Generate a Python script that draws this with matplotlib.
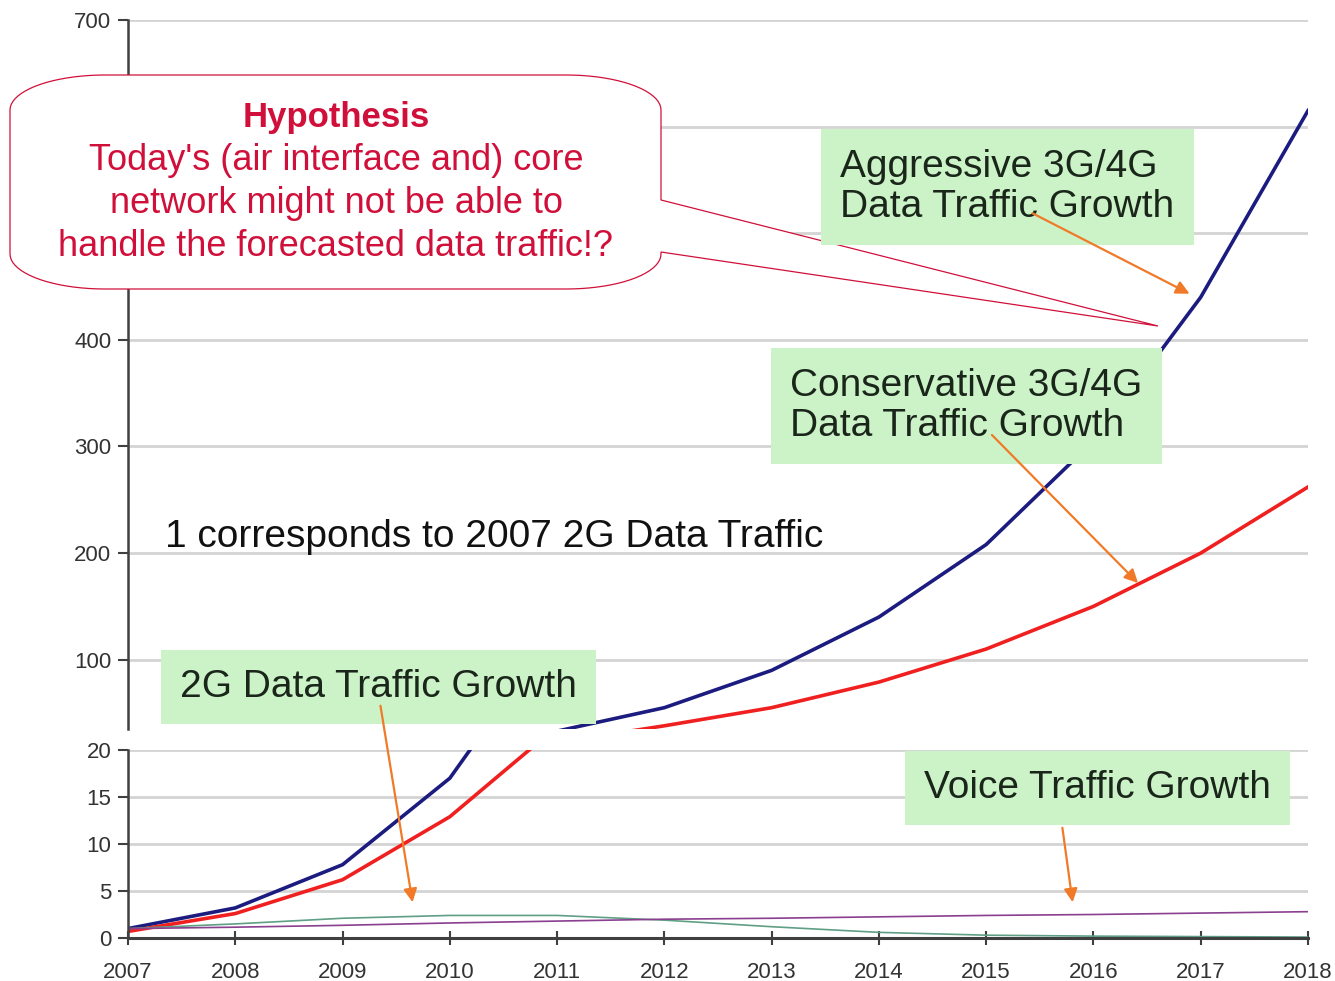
import matplotlib
matplotlib.use("Agg")
import matplotlib.pyplot as plt
from matplotlib.patches import FancyArrowPatch, PathPatch
from matplotlib.path import Path
import numpy as np

LARGURA, ALTURA = 1335, 981
ARQUIVO_SAIDA = "out.png"

anos = [2007, 2008, 2009, 2010, 2011, 2012, 2013, 2014, 2015, 2016, 2017, 2018]
agressivo = [1, 3.2, 7.8, 17, 33, 55, 90, 140, 208, 305, 440, 615]
conservador = [0.7, 2.6, 6.2, 12.9, 22.5, 38, 55, 79, 110, 150, 200, 262]
dados_2g = [1, 1.5, 2.1, 2.4, 2.4, 1.9, 1.2, 0.6, 0.3, 0.2, 0.15, 0.1]
voz = [1, 1.15, 1.35, 1.6, 1.8, 2.0, 2.1, 2.25, 2.4, 2.5, 2.65, 2.8]

ticks_superior = [100, 200, 300, 400, 500, 600, 700]
# 500 e 600 ficam escondidos atras do balao
rotulos_superior = ["100", "200", "300", "400", "", "", "700"]
ticks_inferior = [0, 5, 10, 15, 20]

AZUL = "#1c1c80"
VERMELHO = "#f02020"
VERDE = "#5f9f86"
ROXO = "#8a3f8f"
LARANJA = "#f07a28"
CAIXA = "#ccf3c8"
TEXTO_CAIXA = "#1a261a"
CARMIM = "#d0103a"

FONTE = ["Liberation Sans", "DejaVu Sans"]
FONTE_EIXO = ["Liberation Sans Narrow", "Liberation Sans", "DejaVu Sans"]


def px(x, y):
    # pixel da imagem (origem em cima) -> fracao da figura
    return x / LARGURA, 1 - y / ALTURA


def estilo_eixo(ax):
    for lado in ["top", "right"]:
        ax.spines[lado].set_visible(False)
    ax.spines["left"].set_color("#404040")
    ax.spines["left"].set_linewidth(1.8)
    ax.grid(axis="y", color="#d4d4d4", linewidth=2)
    ax.set_axisbelow(True)
    ax.tick_params(axis="y", colors="#404040", labelcolor="#333333",
                   length=7, width=1.5, labelsize=16, pad=5)


def plotar_series(ax):
    ax.plot(anos, agressivo, color=AZUL, linewidth=2.6)
    ax.plot(anos, conservador, color=VERMELHO, linewidth=2.6)
    ax.plot(anos, dados_2g, color=VERDE, linewidth=1.2)
    ax.plot(anos, voz, color=ROXO, linewidth=1.2)


def balao(fig):
    # balao arredondado com ponta, desenhado em pixels da imagem
    x0, x1, y0, y1 = 10, 661, 75, 289
    rx, ry = 95, 35
    t = np.linspace(0, np.pi / 2, 20)
    pts = []
    # canto superior esquerdo
    pts += [(x0 + rx - rx * np.cos(a), y0 + ry - ry * np.sin(a)) for a in t]
    # canto superior direito
    pts += [(x1 - rx + rx * np.sin(a), y0 + ry - ry * np.cos(a)) for a in t]
    # ponta
    pts += [(x1, 200), (1158, 326), (x1, 252)]
    # canto inferior direito
    pts += [(x1 - rx + rx * np.cos(a), y1 - ry + ry * np.sin(a)) for a in t]
    # canto inferior esquerdo
    pts += [(x0 + rx - rx * np.sin(a), y1 - ry + ry * np.cos(a)) for a in t]
    pts.append(pts[0])
    verts = [px(x, y) for x, y in pts]
    codes = [Path.MOVETO] + [Path.LINETO] * (len(verts) - 2) + [Path.CLOSEPOLY]
    patch = PathPatch(Path(verts, codes), facecolor="white", edgecolor=CARMIM,
                      linewidth=0.9, transform=fig.transFigure, zorder=10)
    fig.add_artist(patch)

    cx = 336 / LARGURA
    fig.text(cx, px(0, 117)[1], "Hypothesis", ha="center", va="center",
             fontsize=25, fontweight="bold", color=CARMIM, family=FONTE, zorder=11)
    linhas = ["Today's (air interface and) core",
              "network might not be able to",
              "handle the forecasted data traffic!?"]
    for i, linha in enumerate(linhas):
        fig.text(cx, px(0, 161 + 43 * i)[1], linha, ha="center", va="center",
                 fontsize=26, color=CARMIM, family=FONTE, zorder=11)


def caixa(fig, x, y, texto):
    fig.text(*px(x, y), texto, ha="left", va="center", fontsize=28,
             color=TEXTO_CAIXA, family=FONTE, linespacing=1.15, zorder=12,
             bbox=dict(boxstyle="square,pad=0.5", facecolor=CAIXA,
                       edgecolor="none"))


def seta(fig, inicio, fim):
    a = FancyArrowPatch(px(*inicio), px(*fim), transform=fig.transFigure,
                        arrowstyle="-|>,head_length=8,head_width=4",
                        color=LARANJA, linewidth=1.6, zorder=13)
    fig.add_artist(a)


def desenhar_grafico():
    fig = plt.figure(figsize=(LARGURA / 100, ALTURA / 100), dpi=100)
    fig.patch.set_facecolor("white")

    esq, dir_ = px(128, 0)[0], px(1308, 0)[0]
    # eixo superior (35 a 700)
    b_sup = px(0, 729)[1]
    t_sup = px(0, 20)[1]
    ax_sup = fig.add_axes([esq, b_sup, dir_ - esq, t_sup - b_sup])
    # eixo inferior (0 a 20)
    b_inf = px(0, 938)[1]
    t_inf = px(0, 750)[1]
    ax_inf = fig.add_axes([esq, b_inf, dir_ - esq, t_inf - b_inf])

    for ax in (ax_sup, ax_inf):
        plotar_series(ax)
        ax.set_xlim(anos[0], anos[-1])
        estilo_eixo(ax)

    ax_sup.set_ylim(35, 700)
    ax_sup.set_yticks(ticks_superior)
    ax_sup.set_yticklabels(rotulos_superior)
    ax_sup.spines["bottom"].set_visible(False)
    ax_sup.tick_params(axis="x", bottom=False, labelbottom=False)

    ax_inf.set_ylim(0, 20)
    ax_inf.set_yticks(ticks_inferior)
    ax_inf.set_xticks(anos)
    ax_inf.spines["bottom"].set_color("#404040")
    ax_inf.spines["bottom"].set_linewidth(2.2)
    ax_inf.tick_params(axis="x", direction="inout", length=10, width=1.5,
                       colors="#404040", labelcolor="#333333", labelsize=16, pad=12)
    for ax in (ax_sup, ax_inf):
        for rotulo in ax.get_yticklabels() + ax.get_xticklabels():
            rotulo.set_family(FONTE_EIXO)

    fig.text(*px(165, 537), "1 corresponds to 2007 2G Data Traffic", ha="left",
             va="center", fontsize=28, color="#111111", family=FONTE)

    balao(fig)

    caixa(fig, 840, 187, "Aggressive 3G/4G\nData Traffic Growth")
    caixa(fig, 790, 406, "Conservative 3G/4G\nData Traffic Growth")
    caixa(fig, 180, 687, "2G Data Traffic Growth")
    caixa(fig, 924, 788, "Voice Traffic Growth")

    seta(fig, (1030, 212), (1192, 295))
    seta(fig, (990, 433), (1140, 585))
    seta(fig, (380, 703), (413, 905))
    seta(fig, (1062, 825), (1073, 905))

    fig.savefig(ARQUIVO_SAIDA, dpi=100)


if __name__ == "__main__":
    desenhar_grafico()
